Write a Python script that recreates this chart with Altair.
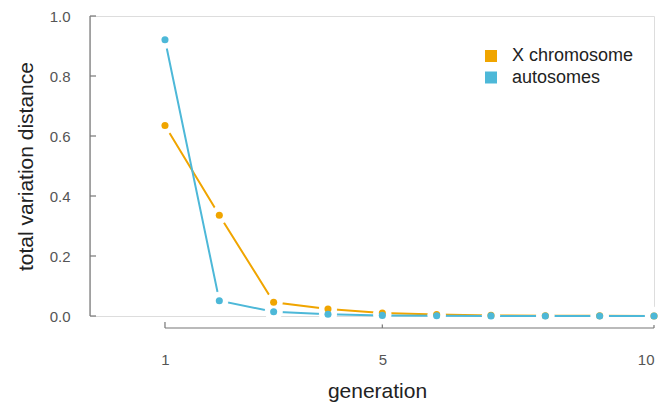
import altair as alt
import pandas as pd

generations = [1, 2, 3, 4, 5, 6, 7, 8, 9, 10]
x_chromosome = [0.635, 0.336, 0.046, 0.023, 0.010, 0.005, 0.002, 0.001, 0.0005, 0.0002]
autosomes = [0.921, 0.051, 0.014, 0.006, 0.002, 0.001, 0.0004, 0.0002, 0.0001, 0.0]
series_names = ["X chromosome", "autosomes"]
series_colors = ["#F0A500", "#4DB8D8"]
y_ticks = [0.0, 0.2, 0.4, 0.6, 0.8, 1.0]
x_ticks = [1, 5, 10]

rows = []
for g, v in zip(generations, x_chromosome):
    rows.append({"generation": g, "value": v, "series": series_names[0]})
for g, v in zip(generations, autosomes):
    rows.append({"generation": g, "value": v, "series": series_names[1]})
df = pd.DataFrame(rows)

FONT = "Liberation Sans"
xscale = alt.Scale(domain=[-0.38, 10], nice=False, zero=False)
yscale = alt.Scale(domain=[0, 1], nice=False, zero=False)
cscale = alt.Scale(domain=series_names, range=series_colors)

x_enc = alt.X("generation:Q", scale=xscale,
              axis=alt.Axis(values=x_ticks, domain=False, ticks=False, tickSize=0, grid=False,
                            labelPadding=36, labelFontSize=15, labelColor="#555555",
                            labelFont=FONT, title="generation", titleFontSize=21,
                            titleFont=FONT, titleFontWeight="normal", titleColor="#222222",
                            titleX=287, titlePadding=13, format="d"))
y_enc = alt.Y("value:Q", scale=yscale,
              axis=alt.Axis(values=y_ticks, domain=False, ticks=False, tickSize=0, grid=False,
                            labelPadding=20, labelFontSize=15, labelColor="#555555",
                            labelFont=FONT, format=".1f", title="total variation distance",
                            titleFontSize=21, titleFont=FONT, titleFontWeight="normal",
                            titleColor="#222222", titlePadding=13))

color_enc = alt.Color("series:N", scale=cscale, sort=series_names,
                      legend=alt.Legend(title=None, orient="none", legendX=392, legendY=31,
                                        symbolType="square", symbolSize=144,
                                        symbolStrokeWidth=0, symbolOpacity=1,
                                        labelFontSize=18, labelFont=FONT,
                                        labelColor="#222222", labelOffset=12,
                                        rowPadding=3.5, padding=0))

base = alt.Chart(df)

lines = base.mark_line(strokeWidth=2).encode(
    x=x_enc, y=y_enc, color=color_enc, detail="series:N")
halo = base.mark_point(size=300, filled=True, fill="#ffffff", stroke="#ffffff",
                       strokeWidth=1, opacity=1, fillOpacity=1, shape="circle").encode(
    x="generation:Q", y="value:Q")
pts = base.mark_circle(size=50, opacity=1).encode(
    x="generation:Q", y="value:Q", color=color_enc)

# y axis line and inward ticks
yline_df = pd.DataFrame({"y0": [0.0], "y1": [1.0]})
yline = alt.Chart(yline_df).mark_rule(color="#777777", strokeWidth=1.2).encode(
    x=alt.value(0), y=alt.Y("y0:Q", scale=yscale), y2="y1:Q")
ytick_df = pd.DataFrame({"t": y_ticks})
yticks = alt.Chart(ytick_df).mark_rule(color="#777777", strokeWidth=1.2).encode(
    x=alt.value(0), x2=alt.value(6), y=alt.Y("t:Q", scale=yscale))

# x axis line (from first to last generation) and inward ticks
xline_df = pd.DataFrame({"a": [generations[0]], "b": [generations[-1]]})
xline = alt.Chart(xline_df).mark_rule(color="#777777", strokeWidth=1.2).encode(
    x=alt.X("a:Q", scale=xscale), x2="b:Q", y=alt.value(312))
xtick_df = pd.DataFrame({"t": x_ticks})
xticks = alt.Chart(xtick_df).mark_rule(color="#777777", strokeWidth=1.2).encode(
    x=alt.X("t:Q", scale=xscale), y=alt.value(306), y2=alt.value(312))

chart = alt.layer(yline, yticks, xline, xticks, lines, halo, pts).properties(
    width=564, height=300,
    autosize=alt.AutoSizeParams(type="none"),
    padding={"left": 90, "top": 16, "right": 11, "bottom": 92},
).configure_view(stroke=None).configure(background="white")

chart.save("out.html", embed_options={"renderer": "svg", "actions": False})
